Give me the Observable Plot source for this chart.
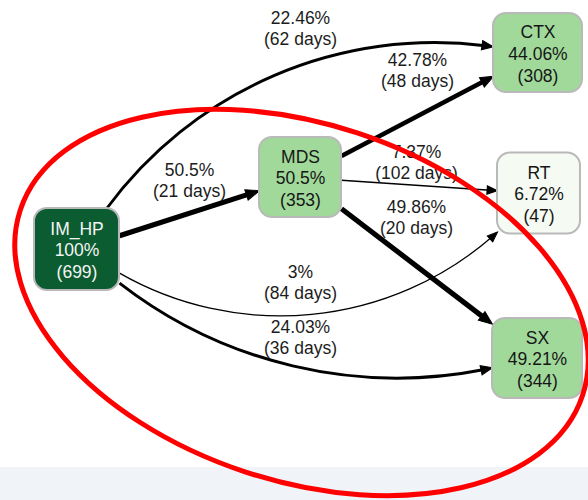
<!DOCTYPE html>
<html><head><meta charset="utf-8">
<script src="https://cdn.jsdelivr.net/npm/d3@7"></script>
<script src="https://cdn.jsdelivr.net/npm/@observablehq/plot@0.6"></script>
<style>html,body{margin:0;padding:0;background:#fff;} #chart svg{display:block;}</style>
</head><body><div id="chart"></div>
<script>
// ---- data ----
const nodeNames = ["IM_HP", "MDS", "CTX", "RT", "SX"];
const nodeShare = ["100%", "50.5%", "44.06%", "6.72%", "49.21%"];
const nodeCount = [699, 353, 308, 47, 344];

const edgeSource = ["IM_HP", "IM_HP", "MDS", "MDS", "MDS", "IM_HP", "IM_HP"];
const edgeTarget = ["CTX", "MDS", "CTX", "RT", "SX", "RT", "SX"];
const edgeShare = [22.46, 50.5, 42.78, 7.37, 49.86, 3, 24.03];
const edgeDays = [62, 21, 48, 102, 20, 84, 36];

// ---- graph layout (layout units) ----
const nodeLayout = {
  IM_HP: {x: 76.5, y: 249, w: 85, h: 82},
  MDS:   {x: 300,  y: 177, w: 82, h: 80},
  CTX:   {x: 537.5,y: 52.5,w: 89, h: 79},
  RT:    {x: 538.5,y: 193, w: 83, h: 81},
  SX:    {x: 537,  y: 358, w: 90, h: 80}
};
const edgeLayout = [
  {bend: 31,  lx: 300, ly: 27},
  {bend: 0,   lx: 189, ly: 179},
  {bend: 0,   lx: 417, ly: 69},
  {bend: 0,   lx: 416, ly: 161},
  {bend: 0,   lx: 416, ly: 216},
  {bend: -36, lx: 300, ly: 281},
  {bend: -25, lx: 300, ly: 336}
];
const highlight = {x: 301, y: 302, a: 296, ratio: 0.603, angle: 18.2};

// ---- styles ----
const nodeStyle = {
  IM_HP: {fill: "#0b5d31", text: "#f4f4f4"},
  MDS:   {fill: "#a1d99b", text: "#161616"},
  CTX:   {fill: "#a1d99b", text: "#161616"},
  RT:    {fill: "#f5faf2", text: "#161616"},
  SX:    {fill: "#a1d99b", text: "#161616"}
};

// ---- derived ----
const nodes = nodeNames.map((n, i) => {
  const L = nodeLayout[n];
  return {name: n, share: nodeShare[i], count: nodeCount[i],
    x: L.x, y: L.y, x1: L.x - L.w / 2, x2: L.x + L.w / 2, y1: L.y - L.h / 2, y2: L.y + L.h / 2,
    fill: nodeStyle[n].fill, textColor: nodeStyle[n].text};
});

function exitPoint(L, a) {
  const c = Math.cos(a), s = Math.sin(a);
  const t = Math.min(Math.abs(c) > 1e-9 ? (L.w / 2) / Math.abs(c) : Infinity,
                     Math.abs(s) > 1e-9 ? (L.h / 2) / Math.abs(s) : Infinity);
  return [L.x + t * c, L.y + t * s];
}

const edges = edgeSource.map((s, i) => {
  const A = nodeLayout[s], B = nodeLayout[edgeTarget[i]];
  const bendDeg = edgeLayout[i].bend, bend = bendDeg * Math.PI / 180;
  const phi = Math.atan2(B.y - A.y, B.x - A.x);
  const p0 = exitPoint(A, phi - bend);
  const p1 = exitPoint(B, phi + bend + Math.PI);
  const endAngle = Math.atan2(p1[1] - p0[1], p1[0] - p0[0]) + bend;
  const sw = 1 + edgeShare[i] / 12;
  const head = 9 + 0.9 * sw;
  return {source: s, target: edgeTarget[i], share: edgeShare[i], days: edgeDays[i],
    x1: p0[0], y1: p0[1], x2: p1[0], y2: p1[1], bendDeg, endDeg: endAngle * 180 / Math.PI,
    sw, head, lx: edgeLayout[i].lx, ly: edgeLayout[i].ly};
});

const headSymbol = {
  draw(ctx, size) {
    const L = Math.sqrt(size / Math.PI), w = 0.4 * L;
    ctx.moveTo(0, 0); ctx.lineTo(-w, L); ctx.lineTo(w, L); ctx.closePath();
  }
};
const ellipseSymbol = {
  draw(ctx, size) {
    const rx = Math.sqrt(size / Math.PI), ry = rx * highlight.ratio, k = 0.5523;
    ctx.moveTo(rx, 0);
    ctx.bezierCurveTo(rx, ry * k, rx * k, ry, 0, ry);
    ctx.bezierCurveTo(-rx * k, ry, -rx, ry * k, -rx, 0);
    ctx.bezierCurveTo(-rx, -ry * k, -rx * k, -ry, 0, -ry);
    ctx.bezierCurveTo(rx * k, -ry, rx, -ry * k, rx, 0);
    ctx.closePath();
  }
};

const font = "Liberation Sans, Arial, Helvetica, sans-serif";

const plot = Plot.plot({
  width: 588, height: 500, margin: 0,
  x: {domain: [0, 588], range: [0, 588], axis: null},
  y: {domain: [0, 500], range: [0, 500], axis: null},
  color: {type: "identity"},
  style: {fontFamily: font, background: "#fff"},
  marks: [
    Plot.rect([{x1: 0, x2: 588, y1: 467, y2: 500}], {x1: "x1", x2: "x2", y1: "y1", y2: "y2", fill: "#f0f4f9"}),
    ...edges.map(e => Plot.arrow([e], {x1: "x1", y1: "y1", x2: "x2", y2: "y2", bend: e.bendDeg,
      headLength: 0, insetEnd: e.head * 0.7, stroke: "#000", strokeWidth: e.sw, strokeLinecap: "butt"})),
    ...edges.map(e => Plot.dot([e], {x: "x2", y: "y2", r: e.head, symbol: headSymbol,
      rotate: e.endDeg + 90, fill: "#000", stroke: "#000", strokeWidth: 1})),
    Plot.text(edges, {x: "lx", y: "ly", text: d => `${d.share}%\n(${d.days} days)`,
      fontSize: 17.5, lineHeight: 1.2, fill: "#1c1c1c", fontFamily: font}),
    Plot.rect(nodes, {x1: "x1", x2: "x2", y1: "y1", y2: "y2", rx: 13, ry: 13,
      fill: "fill", stroke: "#b9b9b9", strokeWidth: 2}),
    Plot.text(nodes, {x: "x", y: "y", text: d => `${d.name}\n${d.share}\n(${d.count})`,
      fill: "textColor", fontSize: 17.5, lineHeight: 1.24, fontFamily: font}),
    Plot.dot([highlight], {x: "x", y: "y", r: highlight.a, symbol: ellipseSymbol,
      rotate: highlight.angle, fill: "none", stroke: "#ff0000", strokeWidth: 5})
  ]
});
document.getElementById("chart").appendChild(plot);
</script>
</body></html>
